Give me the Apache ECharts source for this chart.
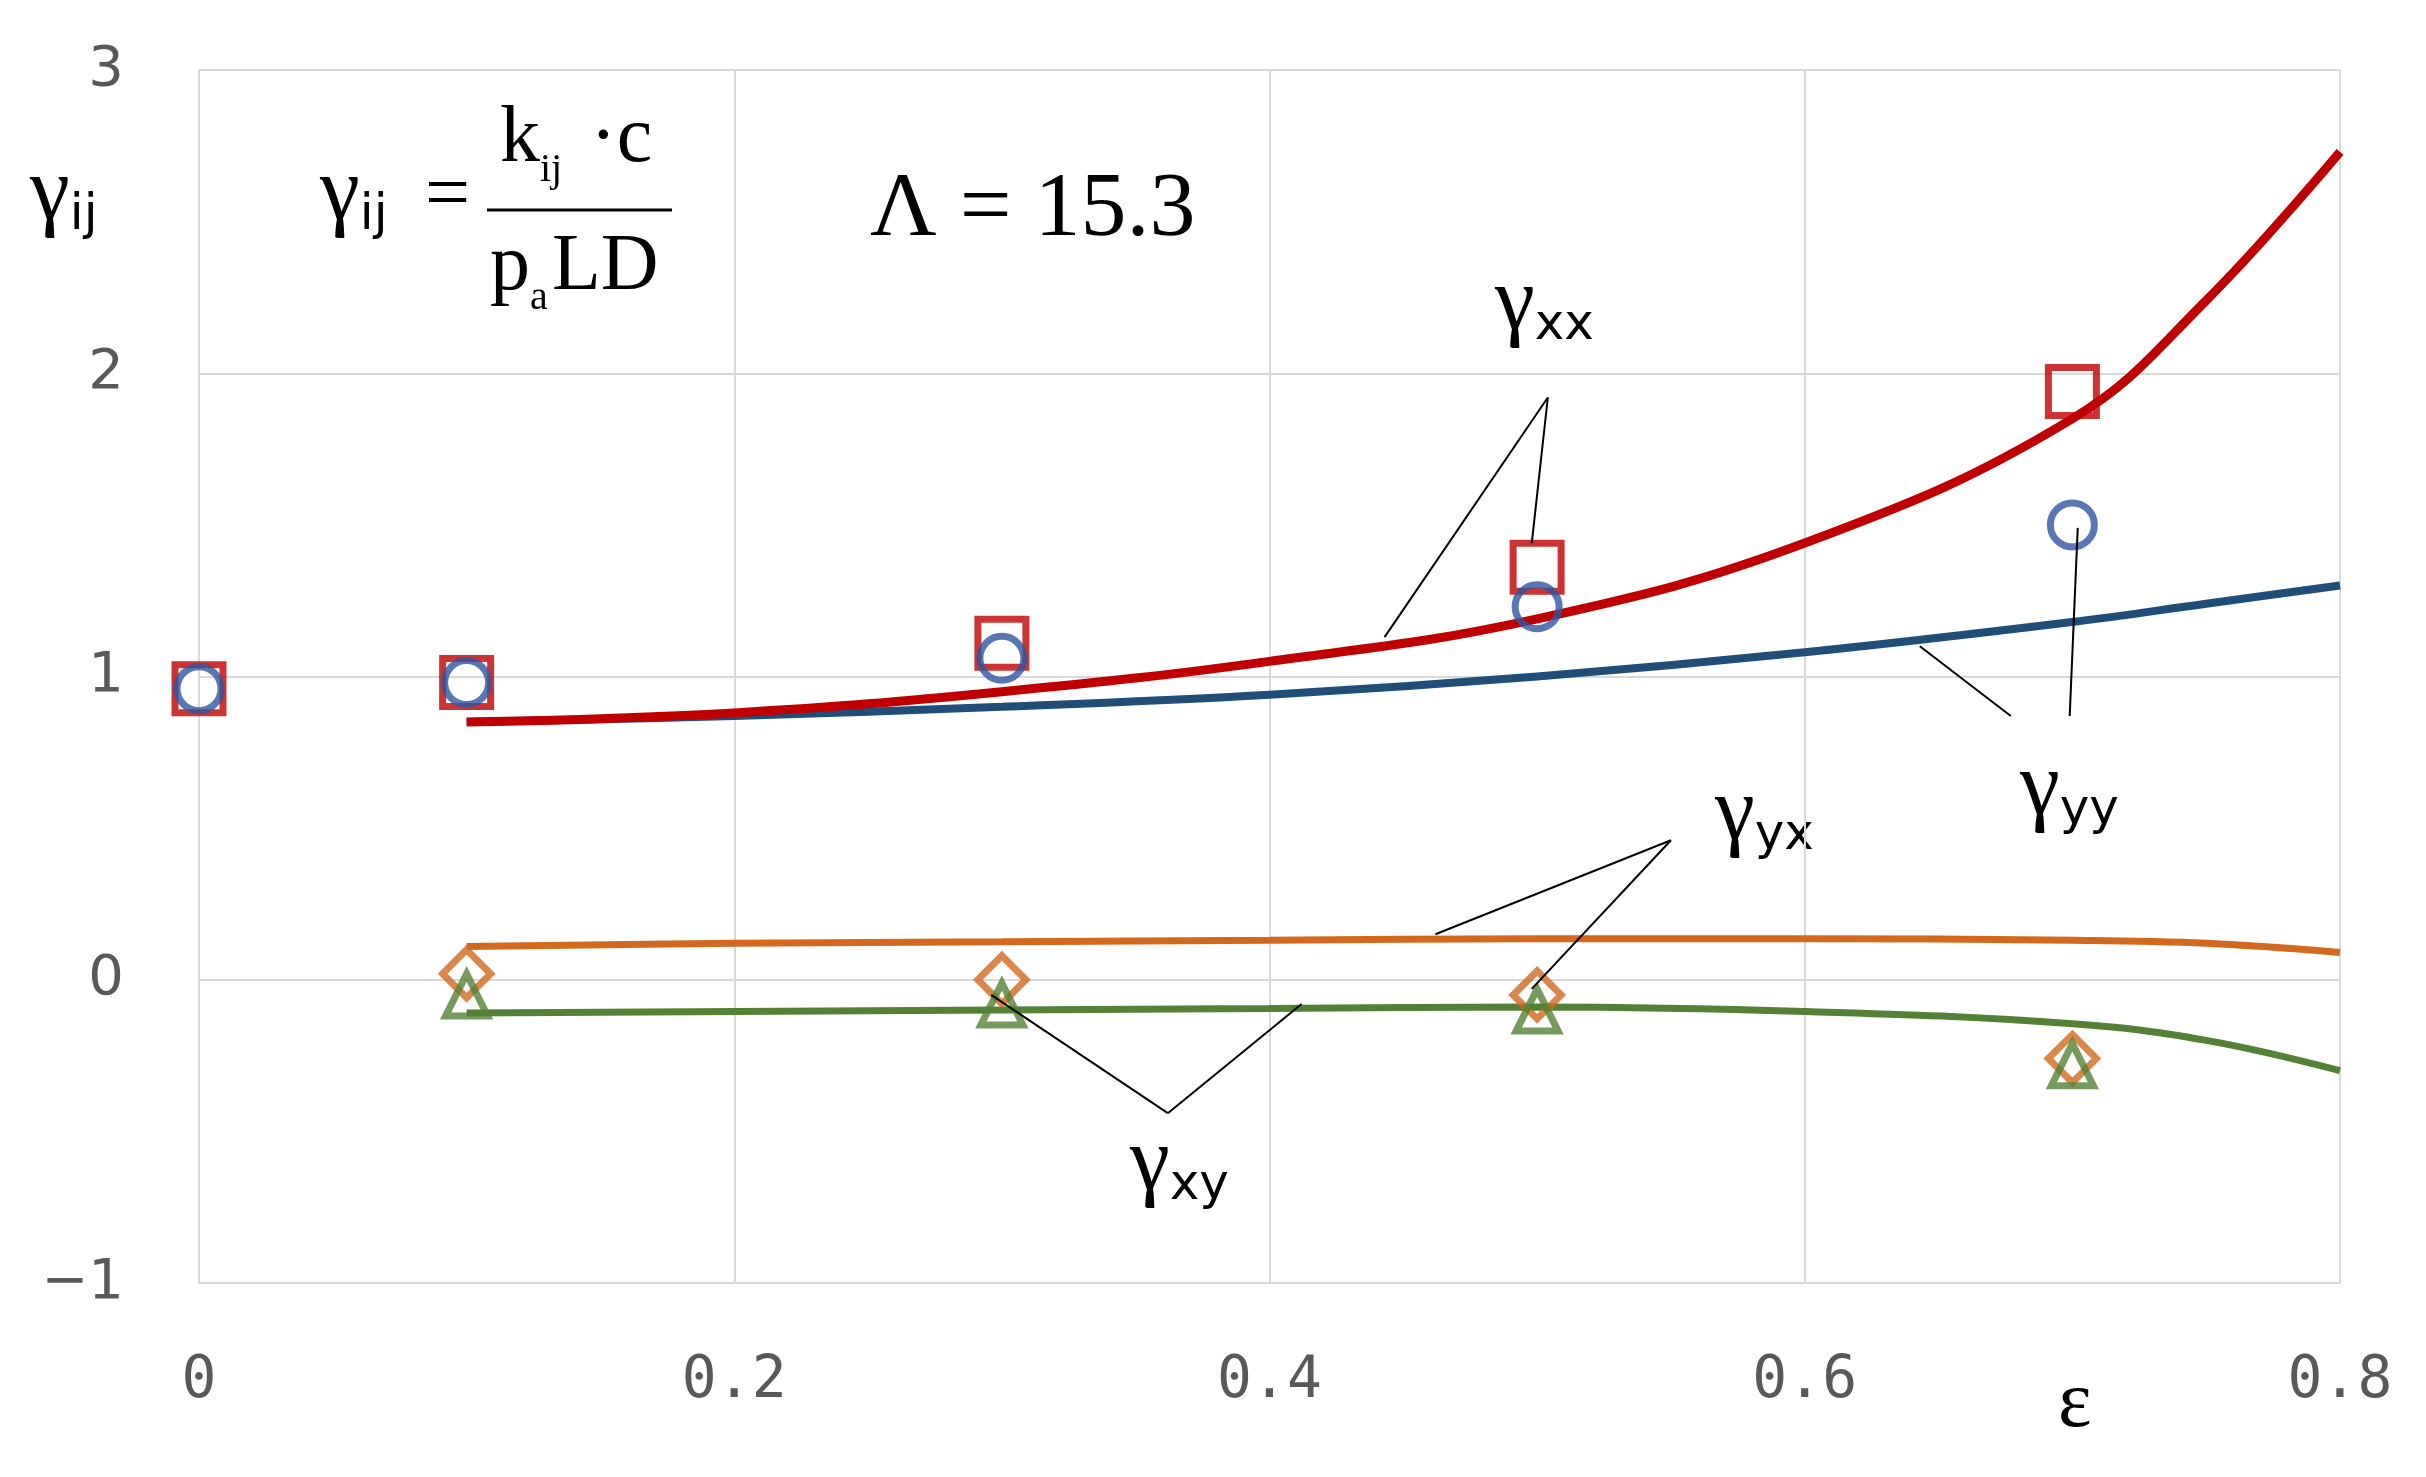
<!DOCTYPE html>
<html><head><meta charset="utf-8">
<script src="https://cdn.jsdelivr.net/npm/echarts@6/dist/echarts.min.js"></script>
<style>html,body{margin:0;padding:0;background:#fff}#c{width:2426px;height:1477px}</style>
</head><body><div id="c"></div>
<script>
var xTicks = [0, 0.2, 0.4, 0.6, 0.8];
var curveX = [0.1, 0.2, 0.3, 0.4, 0.5, 0.6, 0.7, 0.75, 0.8];
var gxxLine = [0.85, 0.88, 0.95, 1.05, 1.19, 1.44, 1.85, 2.24, 2.73];
var gyyLine = [0.85, 0.87, 0.9, 0.94, 1.0, 1.08, 1.18, 1.24, 1.3];
var gyxLine = [0.11, 0.12, 0.125, 0.13, 0.135, 0.135, 0.13, 0.12, 0.09];
var gxyLine = [-0.11, -0.105, -0.1, -0.095, -0.09, -0.105, -0.145, -0.2, -0.3];
var ptX = [0, 0.1, 0.3, 0.5, 0.7];
var gxxPts = [0.96, 0.98, 1.11, 1.36, 1.94];
var gyyPts = [0.96, 0.98, 1.06, 1.23, 1.5];
var ptX2 = [0.1, 0.3, 0.5, 0.7];
var gyxPts = [0.02, 0.0, -0.05, -0.26];
var gxyPts = [-0.05, -0.08, -0.1, -0.28];
var leaders = [
  [[0.504, 1.92], [0.443, 1.13]], [[0.504, 1.92], [0.498, 1.44]],
  [[0.677, 0.87], [0.643, 1.10]], [[0.699, 0.87], [0.702, 1.49]],
  [[0.550, 0.46], [0.462, 0.15]], [[0.550, 0.46], [0.498, -0.03]],
  [[0.362, -0.44], [0.296, -0.05]], [[0.362, -0.44], [0.412, -0.08]]
];

function zip(xs, ys) { return xs.map(function (x, i) { return [x, ys[i]]; }); }
function line(d, c, w) {
  return { type: 'line', data: zip(curveX, d), smooth: 0.4, showSymbol: false,
    lineStyle: { color: c, width: w }, z: 2 };
}
function pts(xs, d, sym, c, size) {
  return { type: 'scatter', data: zip(xs, d), symbol: sym, symbolSize: size,
    itemStyle: { color: 'rgba(255,255,255,0)', borderColor: c, borderWidth: 7 }, z: 3 };
}
var serif = 'Liberation Serif';
var rich = {
  g: { fontFamily: serif, fontSize: 90, color: '#000' },
  s: { fontFamily: 'DejaVu Sans', fontSize: 50, color: '#000', padding: [42, 0, 0, 0] }
};
function label(x, y, sub) {
  return { type: 'text', left: x, top: y, style: { text: '{g|γ}{s|' + sub + '}', rich: rich } };
}

var chart = echarts.init(document.getElementById('c'));
chart.setOption({
  animation: false,
  grid: { left: 199, right: 86, top: 70, bottom: 194 },
  xAxis: {
    type: 'value', min: 0, max: 0.8, interval: 0.2,
    axisLine: { show: false }, axisTick: { show: false },
    splitLine: { lineStyle: { color: '#d9d9d9', width: 2 } },
    axisLabel: { margin: 70, fontFamily: 'DejaVu Sans Mono', fontSize: 58, color: '#595959',
      formatter: function (v) { return xTicks.indexOf(Math.round(v * 10) / 10) >= 0 ? String(+v.toFixed(1)) : ''; } }
  },
  yAxis: {
    type: 'value', min: -1, max: 3, interval: 1,
    axisLine: { show: true, lineStyle: { color: '#d9d9d9', width: 2 } }, axisTick: { show: false },
    splitLine: { lineStyle: { color: '#d9d9d9', width: 2 } },
    axisLabel: { margin: 75, fontFamily: 'DejaVu Sans', fontSize: 56, color: '#595959',
      formatter: function (v) { return v < 0 ? '\u2212' + (-v) : String(v); } }
  },
  series: [
    line(gyyLine, '#1f4e79', 8), line(gxxLine, '#c00000', 9),
    line(gyxLine, '#d2691e', 7), line(gxyLine, '#548235', 7),
    pts(ptX, gxxPts, 'rect', '#c00000', 48),
    pts(ptX, gyyPts, 'circle', '#2f55a4', 44),
    pts(ptX2, gyxPts, 'diamond', '#d2691e', 48),
    pts(ptX2, gxyPts, 'triangle', '#548235', 42),
    { type: 'lines', coordinateSystem: 'cartesian2d', polyline: false,
      data: leaders.map(function (c) { return { coords: c }; }),
      lineStyle: { color: '#000', width: 2, opacity: 1 }, z: 4 }
  ],
  graphic: [
    label(30, 150, 'ij'),
    label(320, 150, 'ij'),
    { type: 'text', left: 425, top: 158, style: { text: '=', fontFamily: serif, fontSize: 80, fill: '#000' } },
    { type: 'text', left: 500, top: 100, style: { text: 'k', fontFamily: serif, fontSize: 80, fill: '#000' } },
    { type: 'text', left: 540, top: 150, style: { text: 'ij', fontFamily: serif, fontSize: 40, fill: '#000' } },
    { type: 'text', left: 590, top: 100, style: { text: '\u00b7c', fontFamily: serif, fontSize: 80, fill: '#000' } },
    { type: 'line', shape: { x1: 487, y1: 210, x2: 672, y2: 210 }, style: { stroke: '#000', lineWidth: 3 } },
    { type: 'text', left: 490, top: 228, style: { text: 'p', fontFamily: serif, fontSize: 80, fill: '#000' } },
    { type: 'text', left: 530, top: 278, style: { text: 'a', fontFamily: serif, fontSize: 40, fill: '#000' } },
    { type: 'text', left: 552, top: 228, style: { text: 'LD', fontFamily: serif, fontSize: 80, fill: '#000' } },
    { type: 'text', left: 870, top: 165, style: { text: '\u039b = 15.3', fontFamily: serif, fontSize: 92, fill: '#000' } },
    label(1495, 260, 'xx'),
    label(2020, 745, 'yy'),
    label(1715, 770, 'yx'),
    label(1130, 1120, 'xy'),
    { type: 'text', left: 2058, top: 1365, style: { text: '\u03b5', fontFamily: serif, fontSize: 80, fill: '#000' } }
  ]
});
</script></body></html>
